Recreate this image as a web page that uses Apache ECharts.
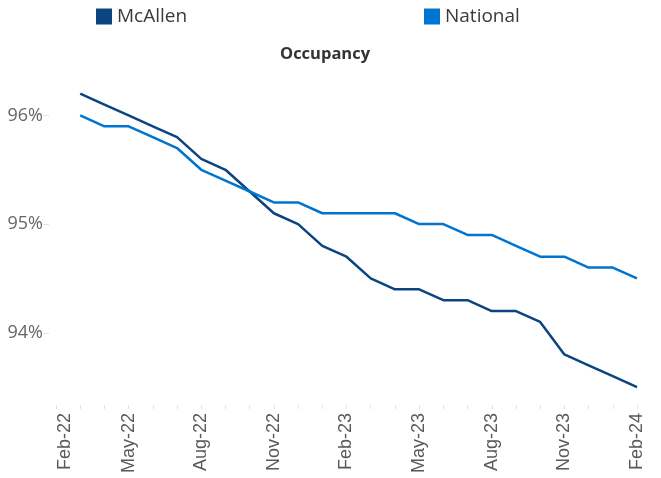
<!DOCTYPE html>
<html>
<head>
<meta charset="utf-8">
<script src="https://cdn.jsdelivr.net/npm/echarts@6/dist/echarts.min.js"></script>
<style>html,body{margin:0;padding:0;background:#fff}#c{width:661px;height:478px}</style>
</head>
<body>
<div id="c"></div>
<script>
const categories = ['Feb-22','Mar-22','Apr-22','May-22','Jun-22','Jul-22','Aug-22','Sep-22','Oct-22','Nov-22','Dec-22','Jan-23','Feb-23','Mar-23','Apr-23','May-23','Jun-23','Jul-23','Aug-23','Sep-23','Oct-23','Nov-23','Dec-23','Jan-24','Feb-24'];
const mcallen = [null, 96.2, 96.1, 96.0, 95.9, 95.8, 95.6, 95.5, 95.3, 95.1, 95.0, 94.8, 94.7, 94.5, 94.4, 94.4, 94.3, 94.3, 94.2, 94.2, 94.1, 93.8, 93.7, 93.6, 93.5];
const national = [null, 96.0, 95.9, 95.9, 95.8, 95.7, 95.5, 95.4, 95.3, 95.2, 95.2, 95.1, 95.1, 95.1, 95.1, 95.0, 95.0, 94.9, 94.9, 94.8, 94.7, 94.7, 94.6, 94.6, 94.5];
const yTicks = [94, 95, 96];

const chart = echarts.init(document.getElementById('c'));
chart.setOption({
  animation: false,
  title: {
    text: 'Occupancy', left: 275, top: 41,
    textStyle: { fontFamily: 'Open Sans', fontSize: 16.5, fontWeight: 'bold', color: '#333333' }
  },
  legend: [
    { data: ['McAllen'], left: 91, top: 2, icon: 'rect', itemWidth: 16, itemHeight: 16,
      textStyle: { fontFamily: 'Open Sans', fontSize: 19, color: '#3a3a3a' } },
    { data: ['National'], left: 419, top: 2, icon: 'rect', itemWidth: 16, itemHeight: 16,
      textStyle: { fontFamily: 'Open Sans', fontSize: 19, color: '#3a3a3a' } }
  ],
  grid: { left: 56, right: 24, top: 72, bottom: 73 },
  xAxis: {
    type: 'category', data: categories, boundaryGap: false,
    axisLine: { show: false },
    axisTick: { show: true, interval: 0, length: 4, lineStyle: { color: '#e3e3e3' } },
    axisLabel: { interval: 2, rotate: 90, margin: 8, fontFamily: 'Liberation Sans', fontSize: 18, color: '#595959',
      formatter: (v, i) => i === 0 ? '{first|' + v + '}' : v,
      rich: { first: { fontFamily: 'Liberation Sans', fontSize: 18, color: '#595959', padding: [18, 0, 0, 0] } } },
    splitLine: { show: false }
  },
  yAxis: {
    type: 'value', min: 93.335, max: 96.4, offset: 7,
    axisLine: { show: false },
    axisTick: { show: true, length: 6, customValues: yTicks, lineStyle: { color: '#e3e3e3' } },
    axisLabel: { customValues: yTicks, margin: 6, fontFamily: 'Open Sans', fontSize: 18, color: '#666666',
      formatter: v => Math.round(v) + '%' },
    splitLine: { show: false }
  },
  series: [
    { name: 'McAllen', type: 'line', data: mcallen, symbol: 'none', color: '#0a4580',
      lineStyle: { width: 2.5, color: '#0a4580' } },
    { name: 'National', type: 'line', data: national, symbol: 'none', color: '#0074cf',
      lineStyle: { width: 2.5, color: '#0074cf' } }
  ]
});
</script>
</body>
</html>
